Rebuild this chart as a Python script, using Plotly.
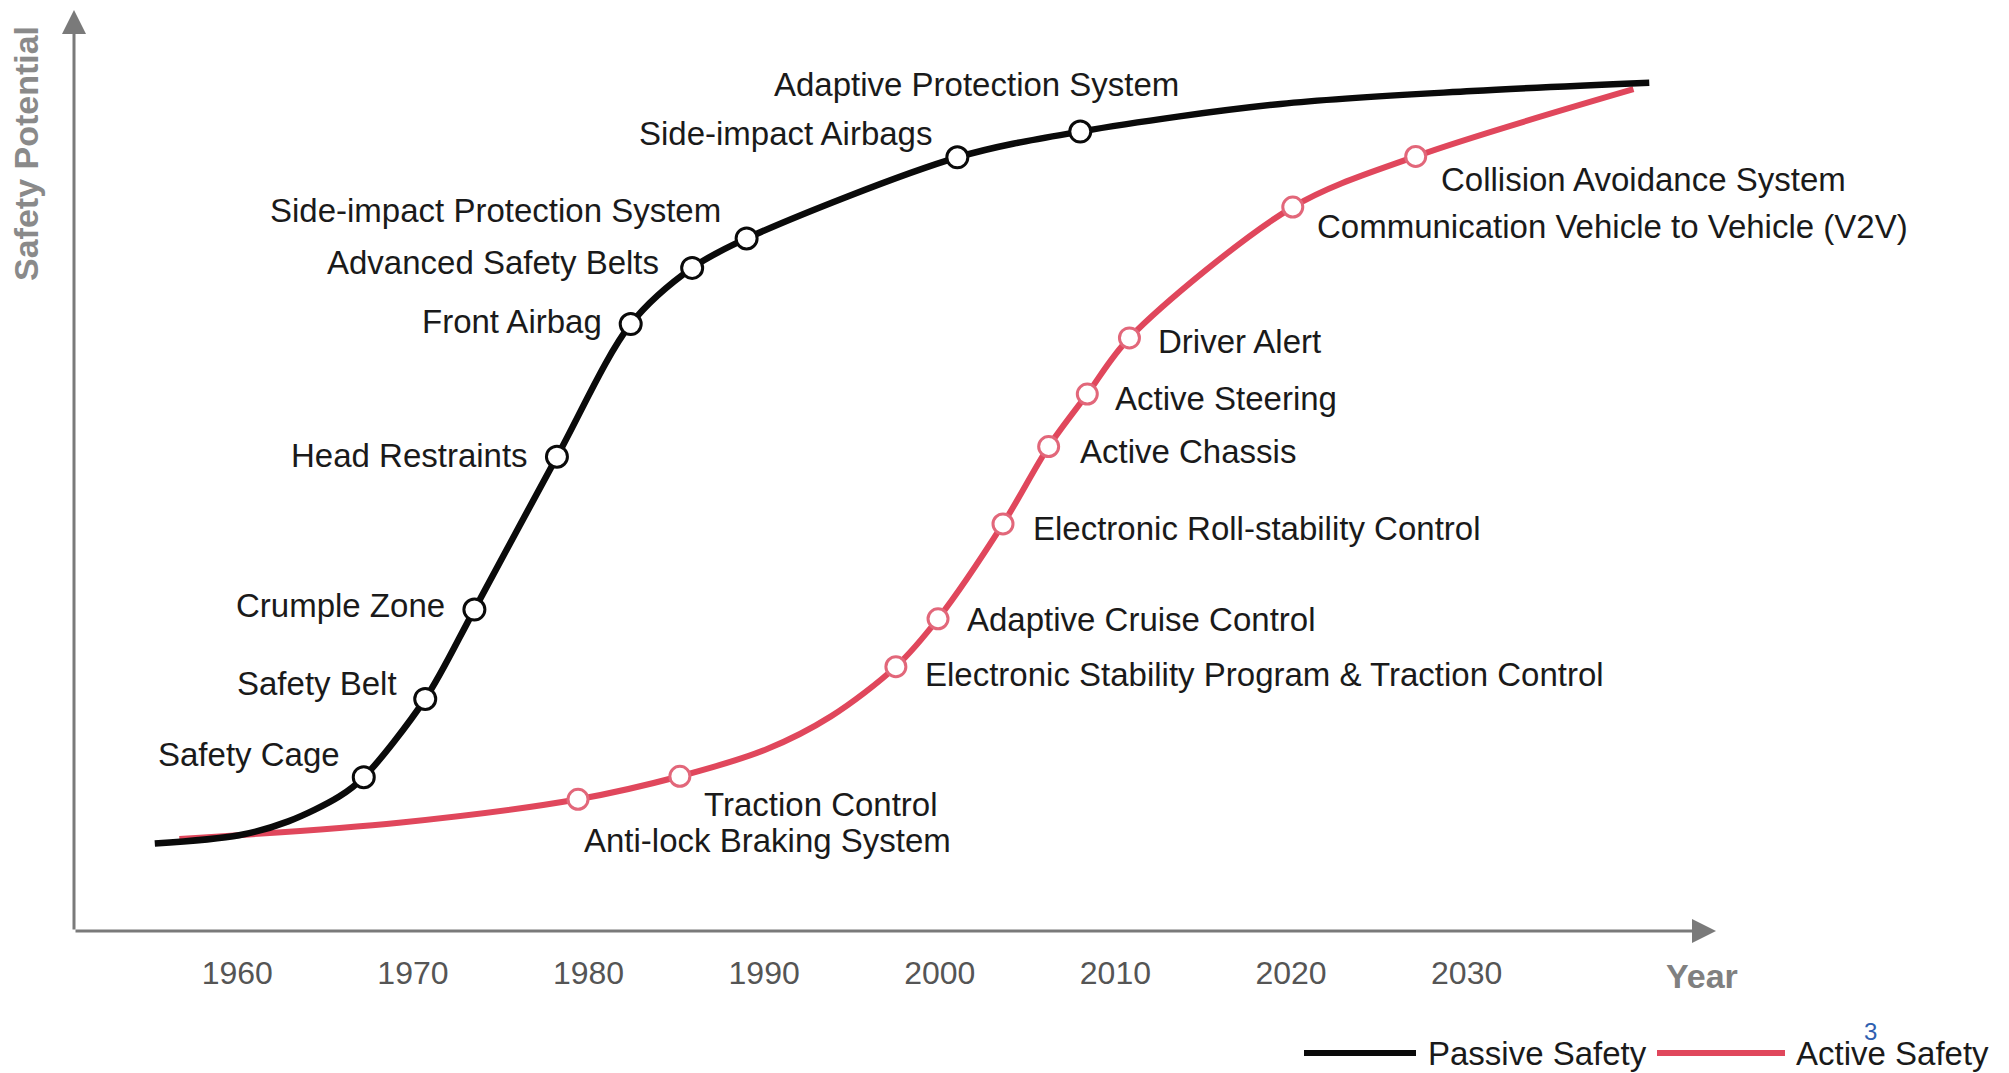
import plotly.graph_objects as go

# ---------------- data ----------------
passive_labels = ["Safety Cage", "Safety Belt", "Crumple Zone", "Head Restraints", "Front Airbag",
                  "Advanced Safety Belts", "Side-impact Protection System", "Side-impact Airbags",
                  "Adaptive Protection System"]
passive_years = [1967.2, 1970.7, 1973.5, 1978.2, 1982.4, 1985.9, 1989.0, 2001.0, 2008.0]
passive_values = [16.7, 25.2, 34.9, 51.5, 65.9, 72.0, 75.2, 84.0, 86.8]
# additional points (no marker)
passive_curve_years = [1955.3, 1960.1, 1962.9, 1965.8, 2019.4, 2030.3, 2040.4]
passive_curve_values = [9.5, 10.4, 11.9, 14.6, 89.8, 91.2, 92.1]

active_labels = ["Anti-lock Braking System", "Traction Control",
                 "Electronic Stability Program & Traction Control", "Adaptive Cruise Control",
                 "Electronic Roll-stability Control", "Active Chassis", "Active Steering",
                 "Driver Alert", "Communication Vehicle to Vehicle (V2V)", "Collision Avoidance System"]
active_years = [1979.4, 1985.2, 1997.5, 1999.9, 2003.6, 2006.2, 2008.4, 2010.8, 2020.1, 2027.1]
active_values = [14.3, 16.8, 28.7, 33.9, 44.2, 52.6, 58.3, 64.4, 78.6, 84.1]
# additional points (no marker)
active_curve_years = [1956.7, 1969.2, 1990.1, 1993.8, 2039.5]
active_curve_values = [10.0, 11.75, 19.7, 23.3, 91.4]

tick_years = [1960, 1970, 1980, 1990, 2000, 2010, 2020, 2030]
series_names = ["Passive Safety", "Active Safety"]

# ---------------- styles / placement ----------------
OFF = 8  # page body margin of the html page
W, H = 2009 - OFF, 1073 - OFF
PLOT_LEFT, PLOT_RIGHT, PLOT_TOP, PLOT_BOTTOM = 74, 1716, 10, 931  # in screen pixels
L = PLOT_LEFT - OFF
T = PLOT_TOP - OFF
R = W - (PLOT_RIGHT - OFF)
B = H - (PLOT_BOTTOM - OFF)
X_RANGE = [1950.7, 2044.2]
Y_RANGE = [0, 100]
FONT = "Liberation Sans, Arial, sans-serif"
BLACK = "#0a0a0a"
RED = "#E0475C"
RED_MARK = "#E2677A"
AXIS_GREY = "#7a7a7a"
TEXT_GREY = "#555555"
LABEL_SIZE = 33

# label offsets in pixels (xanchor, xshift, yshift)
passive_place = [("right", -22, 23), ("right", -26, 15), ("right", -27, 4), ("right", -27, 1),
                 ("right", -27, 3), ("right", -31, 5), ("right", -24, 28), ("right", -23, 24),
                 ("center", -104, 47)]
active_place = [("left", 4, -41), ("left", 22, -28), ("left", 27, -8), ("left", 27, -1),
                ("left", 28, -5), ("left", 29, -5), ("left", 26, -4), ("left", 27, -4),
                ("left", 22, -19), ("left", 23, -23)]


def merged(xs1, ys1, xs2, ys2):
    pts = sorted(zip(list(xs1) + list(xs2), list(ys1) + list(ys2)))
    return [p[0] for p in pts], [p[1] for p in pts]


def px_to_paper(px, py):
    """screen pixel -> paper coordinates"""
    return ((px - PLOT_LEFT) / (PLOT_RIGHT - PLOT_LEFT),
            (PLOT_BOTTOM - py) / (PLOT_BOTTOM - PLOT_TOP))


fig = go.Figure()

px_, py_ = merged(passive_years, passive_values, passive_curve_years, passive_curve_values)
ax_, ay_ = merged(active_years, active_values, active_curve_years, active_curve_values)

fig.add_trace(go.Scatter(x=ax_, y=ay_, mode="lines", name=series_names[1],
                         line=dict(color=RED, width=6, shape="spline", smoothing=0.9),
                         hoverinfo="skip"))
fig.add_trace(go.Scatter(x=px_, y=py_, mode="lines", name=series_names[0],
                         line=dict(color=BLACK, width=6.5, shape="spline", smoothing=0.9),
                         hoverinfo="skip"))
fig.add_trace(go.Scatter(x=active_years, y=active_values, mode="markers", text=active_labels,
                         marker=dict(size=20, color="white", line=dict(color=RED_MARK, width=3)),
                         hovertemplate="%{text}<extra></extra>"))
fig.add_trace(go.Scatter(x=passive_years, y=passive_values, mode="markers", text=passive_labels,
                         marker=dict(size=21, color="white", line=dict(color=BLACK, width=3)),
                         hovertemplate="%{text}<extra></extra>"))

annotations = []
for lab, x, y, (anc, xs, ys) in zip(passive_labels, passive_years, passive_values, passive_place):
    annotations.append(dict(x=x, y=y, xref="x", yref="y", text=lab, showarrow=False,
                            xanchor=anc, yanchor="middle", xshift=xs, yshift=ys,
                            font=dict(family=FONT, size=LABEL_SIZE, color="#1a1a1a")))
for lab, x, y, (anc, xs, ys) in zip(active_labels, active_years, active_values, active_place):
    annotations.append(dict(x=x, y=y, xref="x", yref="y", text=lab, showarrow=False,
                            xanchor=anc, yanchor="middle", xshift=xs, yshift=ys,
                            font=dict(family=FONT, size=LABEL_SIZE, color="#1a1a1a")))

# axis arrows
annotations.append(dict(x=X_RANGE[1], y=0, ax=X_RANGE[0], ay=0, xref="x", yref="y",
                        axref="x", ayref="y", showarrow=True, arrowhead=2, arrowsize=1.6,
                        arrowwidth=3, arrowcolor=AXIS_GREY, text=""))
annotations.append(dict(x=X_RANGE[0], y=Y_RANGE[1], ax=X_RANGE[0], ay=0, xref="x", yref="y",
                        axref="x", ayref="y", showarrow=True, arrowhead=2, arrowsize=1.6,
                        arrowwidth=3, arrowcolor=AXIS_GREY, text=""))

# axis titles
x0, y0 = px_to_paper(1702, 976)
annotations.append(dict(x=x0, y=y0, xref="paper", yref="paper", text="<b>Year</b>",
                        showarrow=False, xanchor="center", yanchor="middle",
                        font=dict(family=FONT, size=34, color="#808080")))
x0, y0 = px_to_paper(26, 154)
annotations.append(dict(x=x0, y=y0, xref="paper", yref="paper", text="<b>Safety Potential</b>",
                        showarrow=False, xanchor="center", yanchor="middle", textangle=-90,
                        font=dict(family=FONT, size=34, color="#8a8a8a")))

# legend (manual)
shapes = []
for (xa, xb), col, (tx, name) in zip([(1304, 1416), (1657, 1785)], [BLACK, RED],
                                     [(1426, series_names[0]), (1794, series_names[1])]):
    pa, pyy = px_to_paper(xa, 1053)
    pb, _ = px_to_paper(xb, 1053)
    shapes.append(dict(type="line", xref="paper", yref="paper", x0=pa, x1=pb, y0=pyy, y1=pyy,
                       line=dict(color=col, width=6)))
    ptx, pty = px_to_paper(tx, 1053)
    annotations.append(dict(x=ptx, y=pty, xref="paper", yref="paper", text=name,
                            showarrow=False, xanchor="left", yanchor="middle",
                            font=dict(family=FONT, size=33, color="#1a1a1a")))

# slide number artefact
x0, y0 = px_to_paper(1871, 1031)
annotations.append(dict(x=x0, y=y0, xref="paper", yref="paper", text="3", showarrow=False,
                        xanchor="center", yanchor="middle",
                        font=dict(family=FONT, size=24, color="#2f5fb0")))

fig.update_layout(
    width=W, height=H,
    margin=dict(l=L, r=R, t=T, b=B, pad=0),
    paper_bgcolor="white", plot_bgcolor="white",
    showlegend=False,
    annotations=annotations, shapes=shapes,
    xaxis=dict(range=X_RANGE, tickvals=tick_years, ticktext=[str(t) for t in tick_years],
               showgrid=False, zeroline=False, showline=False,
               ticks="outside", ticklen=14, tickcolor="rgba(0,0,0,0)",
               tickfont=dict(family=FONT, size=32, color=TEXT_GREY)),
    yaxis=dict(range=Y_RANGE, showgrid=False, zeroline=False, showline=False,
               showticklabels=False, ticks=""),
)

fig.write_html("out.html")
